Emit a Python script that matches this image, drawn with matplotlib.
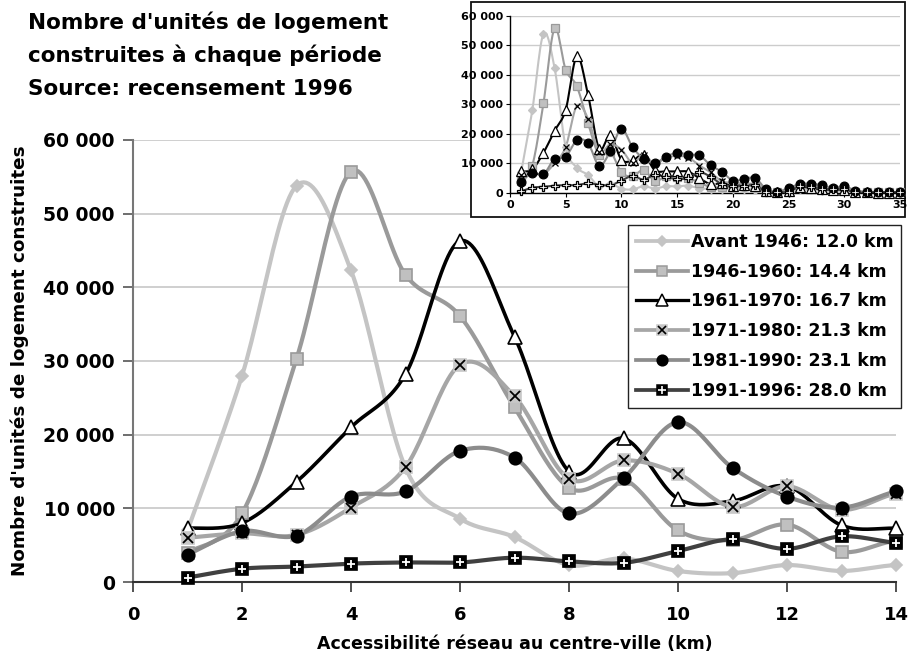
import numpy as np
import matplotlib
matplotlib.use("Agg")
import matplotlib.pyplot as plt
from matplotlib.lines import Line2D
from matplotlib.patches import Rectangle
from matplotlib.ticker import FuncFormatter, MultipleLocator
from matplotlib.legend_handler import HandlerTuple

plt.rcParams['font.family'] = ['DejaVu Sans']
plt.rcParams['font.weight'] = 'bold'

# ---------------- data ----------------
distance_km = list(range(1, 36))
avant_1946 = [7000, 28000, 53800, 42300, 15500, 8600, 6100, 2300, 3200, 1500, 1200, 2300, 1500, 2300,
              2200, 2500, 1500, 1500, 1200, 1500, 1500, 1000, 300, 100, 300, 1200, 1000, 800, 600, 600,
              100, 100, 100, 100, 100]
p1946_1960 = [4000, 9300, 30300, 55700, 41700, 36100, 23700, 12800, 14000, 7000, 5700, 7800, 4100, 5600,
              5500, 5000, 3500, 2000, 2000, 2000, 2500, 2000, 500, 200, 800, 2500, 2500, 1800, 1500, 1500,
              400, 200, 200, 200, 200]
p1961_1970 = [7300, 8000, 13600, 21000, 28200, 46300, 33300, 15000, 19500, 11300, 11000, 13000, 7700, 7300,
              7300, 7200, 5000, 3000, 3300, 2500, 2700, 2500, 800, 300, 700, 2000, 1700, 1200, 1100, 1100,
              300, 200, 100, 100, 100]
p1971_1980 = [6000, 6600, 6400, 10100, 15600, 29500, 25200, 14000, 16500, 14700, 10200, 13000, 9800, 12000,
              12500, 12000, 9300, 7000, 4000, 3500, 3200, 3000, 1200, 400, 1200, 2600, 2800, 2000, 1500, 1700,
              600, 400, 200, 100, 100]
p1981_1990 = [3700, 6900, 6300, 11600, 12300, 17800, 16900, 9300, 14100, 21700, 15500, 11600, 10100, 12300,
              13600, 13000, 12700, 9400, 7200, 4200, 4700, 5100, 1200, 450, 1700, 3000, 3200, 2600, 1700, 2300,
              800, 450, 300, 200, 200]
p1991_1996 = [600, 1800, 2100, 2500, 2650, 2650, 3300, 2800, 2600, 4200, 5800, 4500, 6200, 5300,
              4800, 5000, 7000, 5500, 3000, 2200, 2500, 2700, 500, 300, 500, 2300, 2000, 1500, 1200, 1300,
              200, 200, 200, 200, 200]
series_labels = ["Avant 1946: 12.0 km", "1946-1960: 14.4 km", "1961-1970: 16.7 km",
                 "1971-1980: 21.3 km", "1981-1990: 23.1 km", "1991-1996: 28.0 km"]
title_lines = ["Nombre d'unités de logement", "construites à chaque période", "Source: recensement 1996"]
main_xmax = 14

series = [avant_1946, p1946_1960, p1961_1970, p1971_1980, p1981_1990, p1991_1996]

styles = [
    dict(color='#C4C4C4', lw=3.0, marker='D', mfc='#C4C4C4', mec='#C4C4C4', ms=6.5, over=None),
    dict(color='#9A9A9A', lw=3.0, marker='s', mfc='#C0C0C0', mec='#9A9A9A', ms=9, over=None),
    dict(color='#000000', lw=2.6, marker='^', mfc='white', mec='black', ms=10.5, over=None),
    dict(color='#A6A6A6', lw=3.0, marker='s', mfc='#C8C8C8', mec='#C8C8C8', ms=9, over=('x', 'black')),
    dict(color='#8C8C8C', lw=3.0, marker='o', mfc='black', mec='black', ms=9, over=None),
    dict(color='#404040', lw=3.0, marker='s', mfc='black', mec='black', ms=8.5, over=('+', 'white')),
]


def catmull(x, y, n=24):
    P = np.column_stack([x, y]).astype(float)
    P = np.vstack([P[0], P, P[-1]])
    out = []
    t = np.linspace(0, 1, n)[:, None]
    for i in range(1, len(P) - 2):
        p0, p1, p2, p3 = P[i - 1], P[i], P[i + 1], P[i + 2]
        c1 = p1 + (p2 - p0) / 6.0
        c2 = p2 - (p3 - p1) / 6.0
        b = (1 - t) ** 3 * p1 + 3 * (1 - t) ** 2 * t * c1 + 3 * (1 - t) * t ** 2 * c2 + t ** 3 * p2
        out.append(b if i == 1 else b[1:])
    s = np.vstack(out)
    return s[:, 0], s[:, 1]


fmt = FuncFormatter(lambda v, p: "0" if v == 0 else f"{int(v):,}".replace(",", " "))

fig = plt.figure(figsize=(9.08, 6.57), dpi=100)
W, H = 908, 657

# ---------------- main axes ----------------
ax = fig.add_axes([133 / W, 1 - 582 / H, (896 - 133) / W, (582 - 140) / H])
x = np.array(distance_km)
mask = x <= main_xmax
handles = []
for ys, st, lab in zip(series, styles, series_labels):
    ys = np.array(ys)
    sx, sy = catmull(x, ys)
    ax.plot(sx, sy, color=st['color'], lw=st['lw'], zorder=3, solid_capstyle='round')
    ax.plot(x[mask], ys[mask], ls='none', marker=st['marker'], mfc=st['mfc'], mec=st['mec'],
            ms=st['ms'], mew=1.2, zorder=4, clip_on=False)
    lms = st['ms'] * 0.85
    h1 = Line2D([], [], color=st['color'], lw=st['lw'] * 0.9, marker=st['marker'], mfc=st['mfc'],
                mec=st['mec'], ms=lms, mew=1.1)
    if st['over']:
        m, c = st['over']
        ax.plot(x[mask], ys[mask], ls='none', marker=m, color=c, ms=st['ms'] * 0.75, mew=1.3,
                zorder=5, clip_on=False)
        h2 = Line2D([], [], ls='none', marker=m, color=c, ms=lms * 0.75, mew=1.2)
        handles.append((h1, h2))
    else:
        handles.append(h1)

ax.set_xlim(0, 14)
ax.set_ylim(0, 60000)
ax.xaxis.set_major_locator(MultipleLocator(2))
ax.yaxis.set_major_locator(MultipleLocator(10000))
ax.yaxis.set_major_formatter(fmt)
ax.grid(axis='y', color='#CCCCCC', lw=1.3, zorder=0)
ax.set_axisbelow(True)
for s in ['top', 'right']:
    ax.spines[s].set_visible(False)
ax.spines['left'].set_color('#777777')
ax.spines['left'].set_linewidth(1.5)
ax.spines['bottom'].set_color('#333333')
ax.spines['bottom'].set_linewidth(1.5)
ax.tick_params(axis='y', direction='out', length=7, width=1.2, color='#555555', labelsize=13.5, pad=6)
ax.tick_params(axis='x', direction='out', length=7, width=1.2, color='#333333', labelsize=13, pad=10)
for lbl in ax.get_xticklabels() + ax.get_yticklabels():
    lbl.set_fontweight('bold')
ax.set_xlabel("Accessibilité réseau au centre-ville (km)", fontsize=12.5, fontweight='bold', labelpad=8)
ax.set_ylabel("Nombre d'unités de logement construites", fontsize=13.2, fontweight='bold', labelpad=10)

leg = ax.legend(handles, series_labels, handler_map={tuple: HandlerTuple(ndivide=1)},
                loc='upper right', bbox_to_anchor=(901 / W, 1 - 225 / H), bbox_transform=fig.transFigure,
                frameon=True, fancybox=False, edgecolor='#222222', framealpha=1, borderpad=0.45,
                handlelength=3.0, handletextpad=0.15, labelspacing=0.68, borderaxespad=0,
                prop=dict(size=12.5, weight='bold'))
leg.get_frame().set_linewidth(1.0)

# ---------------- title ----------------
for i, line in enumerate(title_lines):
    fig.text(28 / W, 1 - (22 + 33.5 * i) / H, line, fontsize=15.5, fontweight='bold',
             ha='left', va='center')

# ---------------- inset ----------------
frame = Rectangle((471 / W, 1 - 217 / H), (905 - 471) / W, (217 - 1.5) / H, transform=fig.transFigure,
                  facecolor='white', edgecolor='#111111', lw=1.3, zorder=1)
fig.add_artist(frame)
ins = fig.add_axes([510 / W, 1 - 193 / H, (900 - 510) / W, (193 - 15.7) / H], zorder=2)
ins_styles = [
    dict(color='#C4C4C4', marker='D', mfc='#C4C4C4', mec='#C4C4C4', ms=4.2),
    dict(color='#9A9A9A', marker='s', mfc='#C0C0C0', mec='#9A9A9A', ms=6),
    dict(color='#000000', marker='^', mfc='white', mec='black', ms=6.5),
    dict(color='#A6A6A6', marker='x', mfc='black', mec='black', ms=4.5),
    dict(color='#8C8C8C', marker='o', mfc='black', mec='black', ms=6.3),
    dict(color='#404040', marker='P', mfc='white', mec='black', ms=5.5),
]
for ys, st in zip(series, ins_styles):
    ys = np.array(ys)
    sx, sy = catmull(x, ys, n=12)
    ins.plot(sx, sy, color=st['color'], lw=1.5, zorder=3)
    ins.plot(x, ys, ls='none', marker=st['marker'], mfc=st['mfc'], mec=st['mec'], ms=st['ms'],
             mew=0.9, zorder=4, clip_on=False)
ins.set_xlim(0, 35)
ins.set_ylim(0, 60000)
ins.xaxis.set_major_locator(MultipleLocator(5))
ins.yaxis.set_major_locator(MultipleLocator(10000))
ins.yaxis.set_major_formatter(fmt)
ins.grid(axis='y', color='#CCCCCC', lw=1.0, zorder=0)
ins.set_axisbelow(True)
for s in ['top', 'right']:
    ins.spines[s].set_visible(False)
ins.spines['left'].set_linewidth(1.0)
ins.spines['bottom'].set_linewidth(1.0)
ins.tick_params(axis='both', direction='out', length=3, width=0.8, labelsize=8, pad=2)
for lbl in ins.get_xticklabels() + ins.get_yticklabels():
    lbl.set_fontweight('bold')
    lbl.set_family(['Liberation Sans Narrow', 'DejaVu Sans'])

fig.savefig("out.png", dpi=100)
